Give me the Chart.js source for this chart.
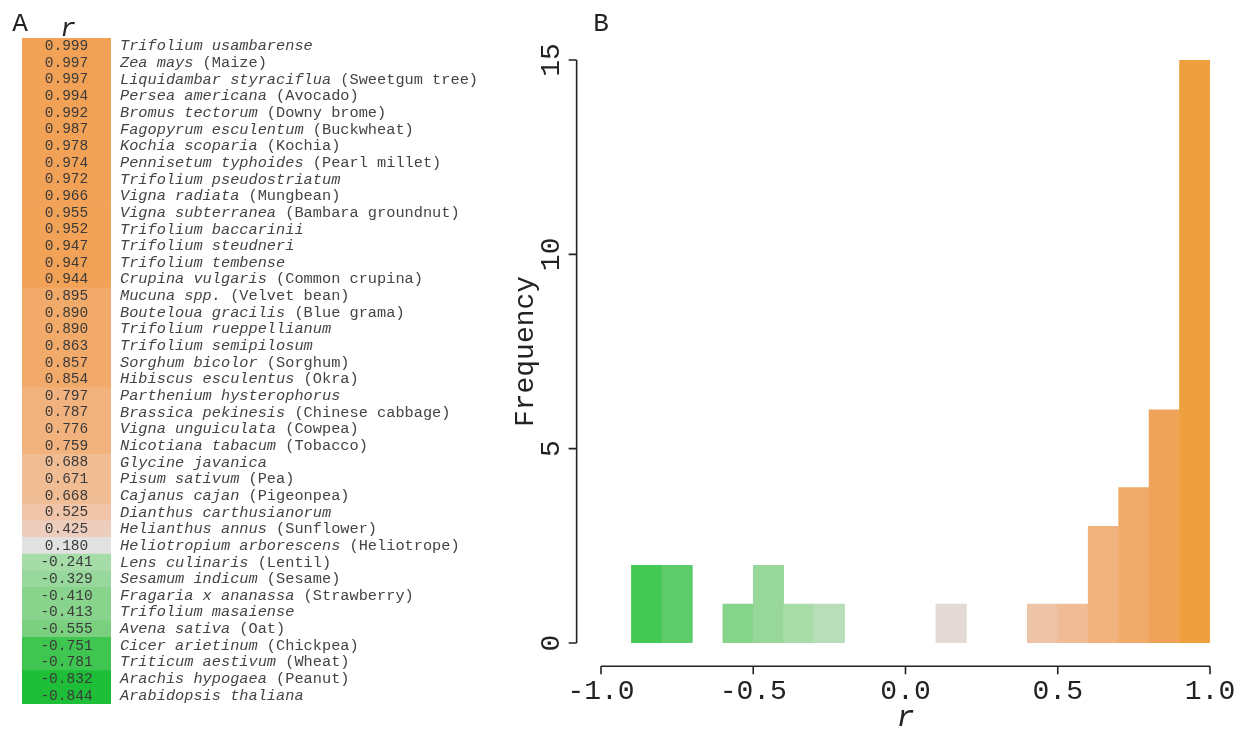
<!DOCTYPE html>
<html>
<head>
<meta charset="utf-8">
<script src="https://cdn.jsdelivr.net/npm/chart.js@4/dist/chart.umd.min.js"></script>
<style>
  body { margin: 0; background: #fff; width: 1243px; height: 736px; overflow: hidden; position: relative; }
  #tableChart { position: absolute; left: 0; top: 0; }
  #histChart { position: absolute; left: 480px; top: 0; }
</style>
</head>
<body>
<canvas id="tableChart" width="480" height="736"></canvas>
<canvas id="histChart" width="763" height="736"></canvas>
<script>
// panel A: species and their r
const speciesNames = [
  'Trifolium usambarense', 'Zea mays', 'Liquidambar styraciflua', 'Persea americana',
  'Bromus tectorum', 'Fagopyrum esculentum', 'Kochia scoparia', 'Pennisetum typhoides',
  'Trifolium pseudostriatum', 'Vigna radiata', 'Vigna subterranea', 'Trifolium baccarinii',
  'Trifolium steudneri', 'Trifolium tembense', 'Crupina vulgaris', 'Mucuna spp.',
  'Bouteloua gracilis', 'Trifolium rueppellianum', 'Trifolium semipilosum', 'Sorghum bicolor',
  'Hibiscus esculentus', 'Parthenium hysterophorus', 'Brassica pekinesis', 'Vigna unguiculata',
  'Nicotiana tabacum', 'Glycine javanica', 'Pisum sativum', 'Cajanus cajan',
  'Dianthus carthusianorum', 'Helianthus annus', 'Heliotropium arborescens', 'Lens culinaris',
  'Sesamum indicum', 'Fragaria x ananassa', 'Trifolium masaiense', 'Avena sativa',
  'Cicer arietinum', 'Triticum aestivum', 'Arachis hypogaea', 'Arabidopsis thaliana'
];
const commonNames = [
  '', '(Maize)', '(Sweetgum tree)', '(Avocado)',
  '(Downy brome)', '(Buckwheat)', '(Kochia)', '(Pearl millet)',
  '', '(Mungbean)', '(Bambara groundnut)', '',
  '', '', '(Common crupina)', '(Velvet bean)',
  '(Blue grama)', '', '', '(Sorghum)',
  '(Okra)', '', '(Chinese cabbage)', '(Cowpea)',
  '(Tobacco)', '', '(Pea)', '(Pigeonpea)',
  '', '(Sunflower)', '(Heliotrope)', '(Lentil)',
  '(Sesame)', '(Strawberry)', '', '(Oat)',
  '(Chickpea)', '(Wheat)', '(Peanut)', ''
];
const rValues = [
  0.999, 0.997, 0.997, 0.994, 0.992, 0.987, 0.978, 0.974, 0.972, 0.966,
  0.955, 0.952, 0.947, 0.947, 0.944, 0.895, 0.890, 0.890, 0.863, 0.857,
  0.854, 0.797, 0.787, 0.776, 0.759, 0.688, 0.671, 0.668, 0.525, 0.425,
  0.180, -0.241, -0.329, -0.410, -0.413, -0.555, -0.751, -0.781, -0.832, -0.844
];

// panel B: histogram, bins of 0.1 from -1 to 1
const binLabels = [
  '-1.0:-0.9', '-0.9:-0.8', '-0.8:-0.7', '-0.7:-0.6', '-0.6:-0.5',
  '-0.5:-0.4', '-0.4:-0.3', '-0.3:-0.2', '-0.2:-0.1', '-0.1:0.0',
  '0.0:0.1', '0.1:0.2', '0.2:0.3', '0.3:0.4', '0.4:0.5',
  '0.5:0.6', '0.6:0.7', '0.7:0.8', '0.8:0.9', '0.9:1.0'
];
const binCounts = [0, 2, 2, 0, 1, 2, 1, 1, 0, 0, 0, 1, 0, 0, 1, 1, 3, 4, 6, 15];
const xTickValues = [-1, -0.5, 0, 0.5, 1];
const xTickLabels = ['-1.0', '-0.5', '0.0', '0.5', '1.0'];
const yTickValues = [0, 5, 10, 15];
const yTickLabels = ['0', '5', '10', '15'];

// colours, one per bin
const histColors = [
  '#ffffff', '#43c853', '#5ccc6a', '#ffffff', '#86d48a',
  '#97d89a', '#a8dca9', '#b8ddb9', '#ffffff', '#ffffff',
  '#ffffff', '#e3dad5', '#ffffff', '#ffffff', '#eec4a8',
  '#efbc95', '#f0b37e', '#f0aa69', '#efa358', '#ee9f3e'
];
const cellColors = [
  '#ffffff', '#1ebe38', '#3fc650', '#ffffff', '#7bd080',
  '#88d48c', '#98d89c', '#a6dca8', '#ffffff', '#ffffff',
  '#ffffff', '#e2e2e2', '#ffffff', '#ffffff', '#edcdbd',
  '#efc4a8', '#f0bc94', '#f2b27d', '#f2aa6a', '#f2a257'
];

function binIndex(r) {
  return Math.min(19, Math.floor((r + 1) * 10));
}

const MONO = '"Liberation Mono", "Courier New", monospace';

const tableText = {
  id: 'tableText',
  afterDatasetsDraw(chart) {
    const c = chart.ctx;
    const area = chart.chartArea;
    const yScale = chart.scales.y;
    const mid = (area.left + area.right) / 2;
    c.save();
    c.textBaseline = 'middle';
    rValues.forEach((r, i) => {
      const y = yScale.getPixelForValue(i);
      c.fillStyle = '#3a3a3a';
      c.font = '14.5px ' + MONO;
      c.textAlign = 'center';
      c.fillText(r.toFixed(3), mid, y);
      c.textAlign = 'left';
      c.fillStyle = '#444';
      c.font = 'italic 15.3px ' + MONO;
      c.fillText(speciesNames[i], 120, y);
      if (commonNames[i]) {
        const w = c.measureText(speciesNames[i] + ' ').width;
        c.font = '15.3px ' + MONO;
        c.fillText(commonNames[i], 120 + w, y);
      }
    });
    c.fillStyle = '#222';
    c.textBaseline = 'alphabetic';
    c.textAlign = 'center';
    c.font = '26px ' + MONO;
    c.fillText('A', 20, 31);
    c.font = 'italic 26px ' + MONO;
    c.fillText('r', 68, 36);
    c.restore();
  }
};

new Chart(document.getElementById('tableChart'), {
  type: 'bar',
  data: {
    labels: speciesNames,
    datasets: [{
      data: rValues.map(() => [0, 1]),
      backgroundColor: rValues.map(r => cellColors[binIndex(r)]),
      borderWidth: 0,
      barPercentage: 1,
      categoryPercentage: 1
    }]
  },
  options: {
    indexAxis: 'y',
    responsive: false,
    animation: false,
    layout: { padding: { left: 22, right: 369, top: 38, bottom: 32 } },
    scales: {
      x: { display: false, min: 0, max: 1 },
      y: { display: false }
    },
    plugins: { legend: { display: false }, tooltip: { enabled: false } }
  },
  plugins: [tableText]
});

// R style detached axes; r values mapped through the bin (category) scale
const rAxes = {
  id: 'rAxes',
  afterDraw(chart) {
    const c = chart.ctx;
    const xs = chart.scales.x;
    const ys = chart.scales.y;
    const step = xs.getPixelForValue(1) - xs.getPixelForValue(0);
    const rPix = v => xs.getPixelForValue(0) + (v + 0.95) * 10 * step;
    const axX = rPix(-1.08);
    const axY = ys.getPixelForValue(-0.6);
    c.save();
    c.strokeStyle = '#222';
    c.fillStyle = '#222';
    c.lineWidth = 1.6;

    // y axis
    c.beginPath();
    c.moveTo(axX, ys.getPixelForValue(yTickValues[0]));
    c.lineTo(axX, ys.getPixelForValue(yTickValues[yTickValues.length - 1]));
    yTickValues.forEach(v => {
      const p = ys.getPixelForValue(v);
      c.moveTo(axX, p);
      c.lineTo(axX - 8, p);
    });
    c.stroke();
    c.font = '28px ' + MONO;
    c.textAlign = 'center';
    c.textBaseline = 'middle';
    yTickValues.forEach((v, i) => {
      c.save();
      c.translate(axX - 25, ys.getPixelForValue(v));
      c.rotate(-Math.PI / 2);
      c.fillText(yTickLabels[i], 0, 0);
      c.restore();
    });
    c.save();
    c.translate(axX - 51, (ys.getPixelForValue(0) + ys.getPixelForValue(15)) / 2);
    c.rotate(-Math.PI / 2);
    c.fillText('Frequency', 0, 0);
    c.restore();

    // x axis
    c.beginPath();
    c.moveTo(rPix(xTickValues[0]), axY);
    c.lineTo(rPix(xTickValues[xTickValues.length - 1]), axY);
    xTickValues.forEach(v => {
      const p = rPix(v);
      c.moveTo(p, axY);
      c.lineTo(p, axY + 8);
    });
    c.stroke();
    xTickValues.forEach((v, i) => {
      c.fillText(xTickLabels[i], rPix(v), axY + 25);
    });
    c.font = 'italic 30px ' + MONO;
    c.fillText('r', rPix(0), axY + 52);

    c.font = '26px ' + MONO;
    c.textBaseline = 'alphabetic';
    c.fillText('B', 121, 31);
    c.restore();
  }
};

new Chart(document.getElementById('histChart'), {
  type: 'bar',
  data: {
    labels: binLabels,
    datasets: [{
      data: binCounts,
      backgroundColor: histColors,
      borderWidth: 0,
      barPercentage: 1,
      categoryPercentage: 1
    }]
  },
  options: {
    responsive: false,
    animation: false,
    layout: { padding: { left: 121, right: 33, top: 60, bottom: 93 } },
    scales: {
      x: { display: false },
      y: { display: false, min: 0, max: 15 }
    },
    plugins: { legend: { display: false }, tooltip: { enabled: false } }
  },
  plugins: [rAxes]
});
</script>
</body>
</html>
